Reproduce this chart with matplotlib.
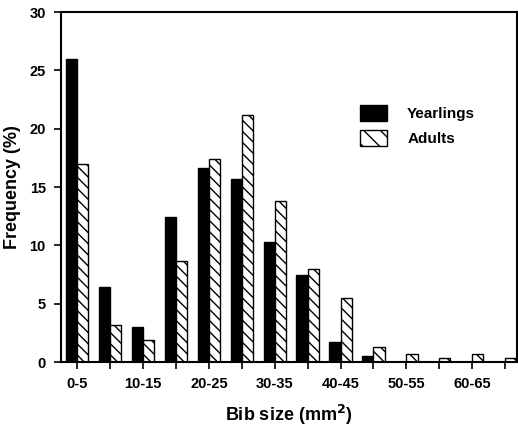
import numpy as np
import matplotlib.pyplot as plt
from matplotlib.patches import Patch

plt.rcParams['font.family'] = ['Liberation Sans', 'DejaVu Sans']
plt.rcParams['font.weight'] = 'bold'
plt.rcParams['hatch.linewidth'] = 1.0

# Классы размера нагрудного пятна
categories = ['0-5', '5-10', '10-15', '15-20', '20-25', '25-30', '30-35',
              '35-40', '40-45', '45-50', '50-55', '55-60', '60-65', '65-70']
yearlings = [26.0, 6.4, 3.0, 12.4, 16.6, 15.7, 10.3, 7.5, 1.7, 0.5, 0, 0, 0, 0]
adults = [17.0, 3.2, 1.9, 8.7, 17.4, 21.2, 13.8, 8.0, 5.5, 1.3, 0.65, 0.35, 0.65, 0.35]

x = np.arange(len(categories))
w = 0.34

fig = plt.figure(figsize=(5.18, 4.30), dpi=100)
ax = fig.add_axes([0.118, 0.158, 0.880, 0.814])

ax.bar(x - w / 2, yearlings, w, color='black', edgecolor='black', linewidth=1.0)
ax.bar(x + w / 2, adults, w, color='white', edgecolor='black', linewidth=1.0,
       hatch='\\\\\\')

ax.set_xlim(-0.49, 13.36)
ax.set_ylim(0, 30)
ax.set_yticks(range(0, 31, 5))
ax.set_xticks(x)
ax.set_xticklabels([c if i % 2 == 0 else '' for i, c in enumerate(categories)])
ax.tick_params(axis='both', direction='out', length=5, width=1.2,
               labelsize=10.5, pad=6)
for lab in ax.get_xticklabels() + ax.get_yticklabels():
    lab.set_fontweight('bold')
for s in ax.spines.values():
    s.set_linewidth(1.5)

ax.set_ylabel('Frequency (%)', fontsize=13, fontweight='bold', labelpad=6)
ax.set_xlabel('Bib size (mm$^{\\mathbf{2}}$)', fontsize=13, fontweight='bold',
              labelpad=8)

handles = [Patch(facecolor='black', edgecolor='black', label='Yearlings'),
           Patch(facecolor='white', edgecolor='black', hatch='\\\\', label='Adults')]
ax.legend(handles=handles, loc='upper left', bbox_to_anchor=(0.625, 0.775),
          frameon=False, handlelength=1.8, handleheight=1.3,
          handletextpad=1.3, labelspacing=0.55,
          prop={'weight': 'bold', 'size': 11})

fig.savefig('out.png', dpi=100)
